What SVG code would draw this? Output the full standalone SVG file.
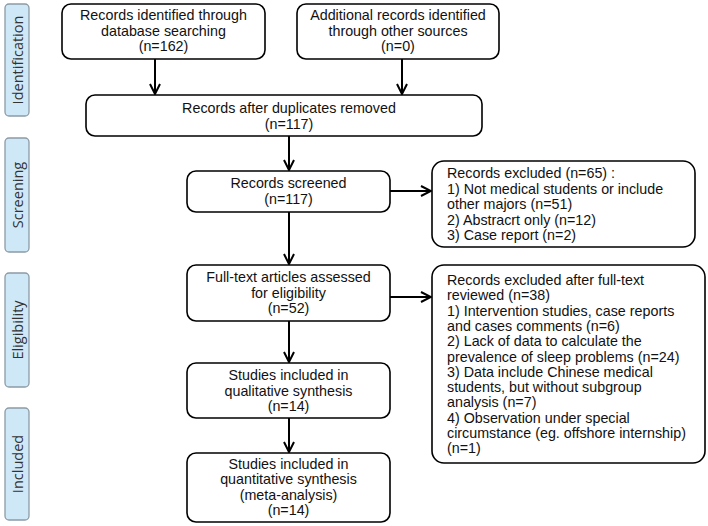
<svg xmlns="http://www.w3.org/2000/svg" width="708" height="526" viewBox="0 0 708 526">
<defs>
<style>
.box{fill:#fff;stroke:#000;stroke-width:1.6}
.side{fill:#cfe8f7;stroke:#8c9ba5;stroke-width:1.3}
.t{font-family:"Liberation Sans",Arial,sans-serif;font-size:14.3px;fill:#111}
.c{text-anchor:middle}
.s{font-family:"Open Sans","DejaVu Sans",sans-serif;font-size:14.5px;fill:#333;text-anchor:middle}
.ln{stroke:#000;stroke-width:2;fill:none}
</style>
<marker id="ah" viewBox="0 0 12 12" refX="11" refY="6" markerWidth="12" markerHeight="12" markerUnits="userSpaceOnUse" orient="auto">
<path d="M1,1 L11,6 L1,11" fill="none" stroke="#000" stroke-width="2"/>
</marker>
</defs>
<rect width="708" height="526" fill="#fff"/>
<g id="phase-identification"><rect class="side" x="5" y="4" width="24" height="112" rx="4"/><text class="s" transform="translate(22.5,60) rotate(-90)">Identification</text></g>
<g id="phase-screening"><rect class="side" x="5" y="138" width="24" height="114" rx="4"/><text class="s" transform="translate(22.5,195) rotate(-90)">Screening</text></g>
<g id="phase-eligibility"><rect class="side" x="5" y="273" width="24" height="114" rx="4"/><text class="s" transform="translate(22.5,330) rotate(-90)">Eligibility</text></g>
<g id="phase-included"><rect class="side" x="5" y="408" width="24" height="112" rx="4"/><text class="s" transform="translate(22.5,464) rotate(-90)">Included</text></g>

<g id="n-db"><rect class="box" x="62" y="4" width="203" height="55" rx="9"/>
<text class="t c" x="163.5" y="20">Records identified through</text>
<text class="t c" x="163.5" y="36">database searching</text>
<text class="t c" x="163.5" y="51">(n=162)</text></g>
<g id="n-other"><rect class="box" x="297" y="4" width="202" height="55" rx="9"/>
<text class="t c" x="398" y="20">Additional records identified</text>
<text class="t c" x="398" y="36">through other sources</text>
<text class="t c" x="398" y="51">(n=0)</text></g>
<g id="n-dup"><rect class="box" x="86" y="95" width="396" height="41" rx="9"/>
<text class="t c" x="289" y="113">Records after duplicates removed</text>
<text class="t c" x="289" y="129">(n=117)</text></g>
<g id="n-screened"><rect class="box" x="187" y="171" width="203" height="41" rx="9"/>
<text class="t c" x="288.5" y="188">Records screened</text>
<text class="t c" x="288.5" y="204">(n=117)</text></g>
<g id="n-excl1"><rect class="box" x="432" y="161" width="263" height="86" rx="12"/>
<text class="t" x="447" y="178">Records  excluded (n=65) :</text>
<text class="t" x="447" y="193.5">1) Not medical students or include</text>
<text class="t" x="447" y="209">other majors (n=51)</text>
<text class="t" x="447" y="224.5">2) Abstracrt only (n=12)</text>
<text class="t" x="447" y="240">3) Case report (n=2)</text></g>
<g id="n-fulltext"><rect class="box" x="187" y="265" width="203" height="56" rx="9"/>
<text class="t c" x="288.5" y="282">Full-text articles assessed</text>
<text class="t c" x="288.5" y="298">for eligibility</text>
<text class="t c" x="288.5" y="313">(n=52)</text></g>
<g id="n-excl2"><rect class="box" x="432" y="265" width="273" height="198" rx="12"/>
<text class="t" x="447" y="285">Records  excluded after full-text</text>
<text class="t" x="447" y="300.3">reviewed (n=38)</text>
<text class="t" x="447" y="315.6">1) Intervention studies, case reports</text>
<text class="t" x="447" y="330.9">and cases comments (n=6)</text>
<text class="t" x="447" y="346.2">2) Lack of data to calculate the</text>
<text class="t" x="447" y="361.5">prevalence of sleep problems (n=24)</text>
<text class="t" x="447" y="376.8">3) Data include Chinese medical</text>
<text class="t" x="447" y="392.1">students, but without subgroup</text>
<text class="t" x="447" y="407.4">analysis (n=7)</text>
<text class="t" x="447" y="422.7">4) Observation under special</text>
<text class="t" x="447" y="438">circumstance (eg. offshore internship)</text>
<text class="t" x="447" y="453.3">(n=1)</text></g>
<g id="n-qual"><rect class="box" x="187" y="363" width="203" height="55" rx="9"/>
<text class="t c" x="288.5" y="380">Studies included in</text>
<text class="t c" x="288.5" y="396">qualitative synthesis</text>
<text class="t c" x="288.5" y="411">(n=14)</text></g>
<g id="n-quant"><rect class="box" x="187" y="453" width="203" height="69" rx="9"/>
<text class="t c" x="288.5" y="469">Studies included in</text>
<text class="t c" x="288.5" y="484">quantitative synthesis</text>
<text class="t c" x="288.5" y="500">(meta-analysis)</text>
<text class="t c" x="288.5" y="515">(n=14)</text></g>

<g id="connectors">
<line class="ln" x1="155" y1="59" x2="155" y2="94" marker-end="url(#ah)"/>
<line class="ln" x1="402" y1="59" x2="402" y2="94" marker-end="url(#ah)"/>
<line class="ln" x1="289" y1="136" x2="289" y2="170" marker-end="url(#ah)"/>
<line class="ln" x1="390" y1="191" x2="431" y2="191" marker-end="url(#ah)"/>
<line class="ln" x1="289" y1="212" x2="289" y2="264" marker-end="url(#ah)"/>
<line class="ln" x1="390" y1="297" x2="431" y2="297" marker-end="url(#ah)"/>
<line class="ln" x1="289" y1="321" x2="289" y2="362" marker-end="url(#ah)"/>
<line class="ln" x1="289" y1="418" x2="289" y2="452" marker-end="url(#ah)"/>
</g>
</svg>
